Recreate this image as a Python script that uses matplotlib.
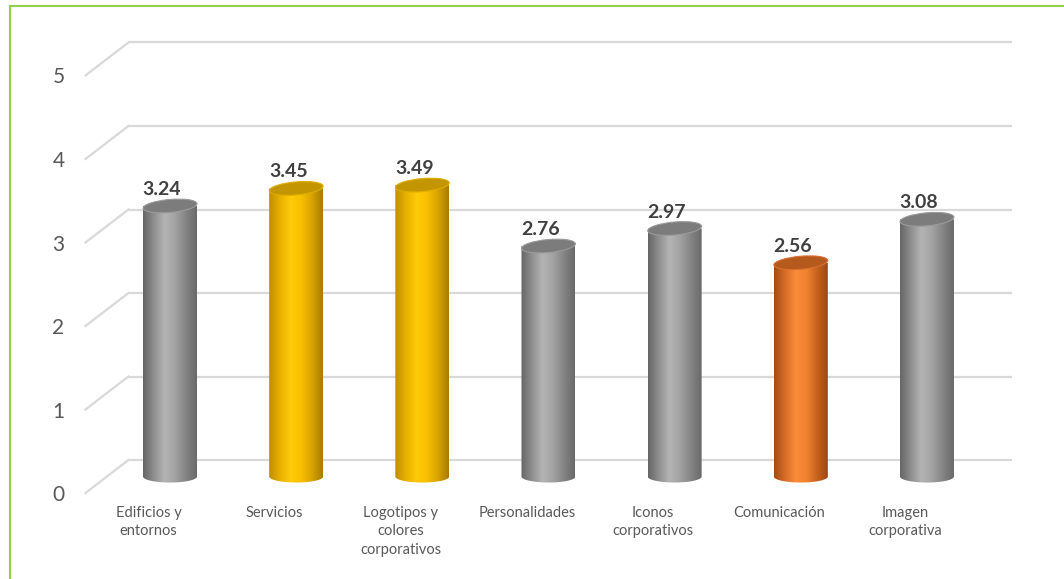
import numpy as np
import matplotlib
matplotlib.use('Agg')
from matplotlib import pyplot as plt
from matplotlib.patches import PathPatch, Ellipse
from matplotlib.path import Path
from matplotlib.lines import Line2D
from matplotlib.transforms import ScaledTranslation, Affine2D
from matplotlib.colors import to_rgb

categorias = ['Edificios y\nentornos', 'Servicios', 'Logotipos y\ncolores\ncorporativos',
              'Personalidades', 'Iconos\ncorporativos', 'Comunicación', 'Imagen\ncorporativa']
valores = [3.24, 3.45, 3.49, 2.76, 2.97, 2.56, 3.08]
tipo = ['gris', 'amarillo', 'amarillo', 'gris', 'gris', 'naranja', 'gris']
ticks_y = [0, 1, 2, 3, 4, 5]

# degradados horizontales de cada cilindro (borde, claro, borde), tapa y borde de tapa
degradados = {
    'gris': (['#666666', '#8f8f8f', '#b4b4b4', '#a2a2a2', '#848484', '#6a6a6a'], '#7c7c7c', '#9a9a9a'),
    'amarillo': (['#c08e00', '#e8b000', '#ffca08', '#f8c000', '#d9a300', '#a87c00'], '#c39500', '#e0ad00'),
    'naranja': (['#a44c14', '#d56c26', '#fa8c3a', '#f0832f', '#c8621e', '#9c4812'], '#b55a1d', '#d87030'),
}

plt.rcParams['font.family'] = ['Lato', 'DejaVu Sans']

fig = plt.figure(figsize=(10.64, 5.79), dpi=100)
ax = fig.add_axes([0.1005, 0.1193, 0.83, 0.8365])
ax.set_xlim(-0.5, 6.5)
ax.set_ylim(-0.4, 5.4)
ax.axis('off')

# desplazamientos de perspectiva: pared del fondo y borde frontal
prof_x, prof_y = 21.5 / 100, 16.5 / 100
fondo = ax.transData + ScaledTranslation(prof_x, prof_y, fig.dpi_scale_trans)
frente = ax.transData + ScaledTranslation(-prof_x, -prof_y, fig.dpi_scale_trans)

gris_linea = '#d9d9d9'
for v in ticks_y:
    ax.plot([-0.5, 6.5], [v, v], color=gris_linea, lw=1.6, transform=fondo,
            clip_on=False, zorder=1, solid_capstyle='butt')
    # diagonal del suelo/lateral
    x0, y0 = frente.transform((-0.5, v))
    x1, y1 = fondo.transform((-0.5, v))
    fig.add_artist(Line2D([x0, x1], [y0, y1], transform=None, color=gris_linea, lw=1.6, zorder=1))
    ax.text(-0.5, v, str(v), transform=frente + ScaledTranslation(-0.21, -0.02, fig.dpi_scale_trans),
            ha='right', va='center', fontsize=15, color='#595959')

ancho = 54 / 126.17
alto_elipse = 12 / 83.5

for i, (v, t) in enumerate(zip(valores, tipo)):
    stops, tapa, borde = degradados[t]
    cols = np.array([to_rgb(c) for c in stops])
    xs = np.linspace(0, 1, 80)
    pos = np.linspace(0, 1, len(stops))
    grad = np.stack([np.interp(xs, pos, cols[:, k]) for k in range(3)], axis=-1)[None, :, :]

    izq, der = i - ancho / 2, i + ancho / 2
    th = np.linspace(np.pi, 2 * np.pi, 40)
    arco = np.column_stack([i + ancho / 2 * np.cos(th), alto_elipse / 2 * np.sin(th)])
    verts = np.vstack([[izq, v], [izq, 0], arco, [der, 0], [der, v], [izq, v]])
    silueta = PathPatch(Path(verts, closed=True), transform=ax.transData,
                        facecolor='none', edgecolor='none')
    ax.add_patch(silueta)
    im = ax.imshow(grad, extent=[izq, der, -alto_elipse / 2, v], aspect='auto',
                   interpolation='bilinear', zorder=2)
    im.set_clip_path(silueta)

    cap = Ellipse((0, 0), 54, 13, angle=5, facecolor=tapa, edgecolor=borde,
                  lw=0.8, transform=Affine2D() + ScaledTranslation(i, v, ax.transData), zorder=3)
    ax.add_patch(cap)

    ax.text(i, v, f'{v:.2f}', transform=ax.transData + ScaledTranslation(-0.08, 0.11, fig.dpi_scale_trans),
            ha='center', va='baseline', fontsize=14, fontweight='bold', color='#404040', zorder=4)

    ax.text(i, 0, categorias[i], transform=frente + ScaledTranslation(0, -0.13, fig.dpi_scale_trans),
            ha='center', va='top', fontsize=10.5, color='#595959', linespacing=1.4)

ax.set_xlim(-0.5, 6.5)
ax.set_ylim(-0.4, 5.4)

# marco verde del gráfico
verde = '#92d050'
fig.add_artist(Line2D([10 / 1064, 1], [1 - 6 / 579, 1 - 6 / 579], transform=fig.transFigure, color=verde, lw=1.5))
fig.add_artist(Line2D([10 / 1064, 10 / 1064], [0, 1 - 6 / 579], transform=fig.transFigure, color=verde, lw=1.5))

fig.savefig('out.png', dpi=100)
